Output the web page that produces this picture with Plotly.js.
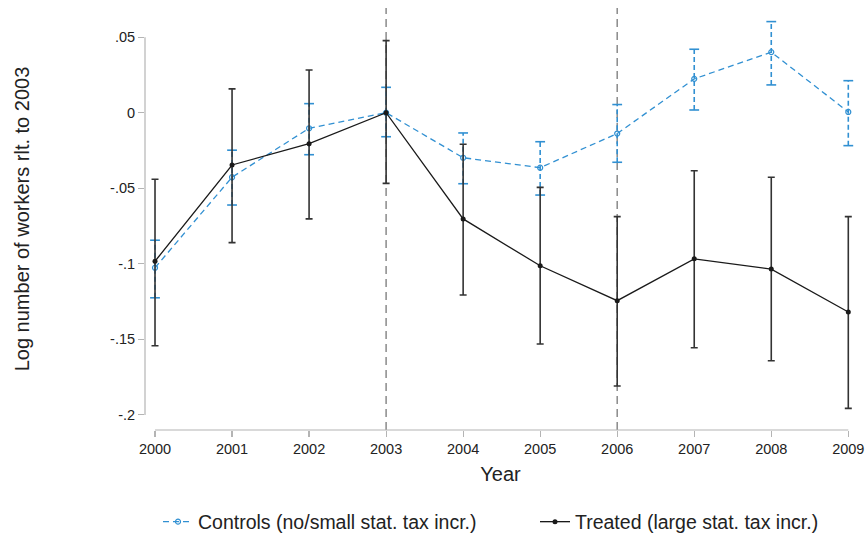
<!DOCTYPE html>
<html>
<head>
<meta charset="utf-8">
<script src="https://cdn.plot.ly/plotly-3.0.1.min.js"></script>
<style>html,body{margin:0;padding:0;background:#fff;}#chart{width:868px;height:540px;}</style>
</head>
<body>
<div id="chart"></div>
<script>
// ---- data ----
const years = [2000, 2001, 2002, 2003, 2004, 2005, 2006, 2007, 2008, 2009];

const controlsEst = [-0.1026, -0.0427, -0.0103, 0.0000, -0.0298, -0.0364, -0.0138, 0.0224, 0.0401, 0.0005];
const controlsHi  = [-0.0844, -0.0248,  0.0060, 0.0168, -0.0134, -0.0192,  0.0054, 0.0420, 0.0603, 0.0212];
const controlsLo  = [-0.1225, -0.0611, -0.0278, -0.0159, -0.0470, -0.0545, -0.0328, 0.0018, 0.0184, -0.0218];

const treatedEst = [-0.0983, -0.0346, -0.0205, 0.0000, -0.0703, -0.1013, -0.1244, -0.0967, -0.1035, -0.1319];
const treatedHi  = [-0.0440,  0.0158,  0.0283, 0.0477, -0.0209, -0.0494, -0.0688, -0.0384, -0.0427, -0.0688];
const treatedLo  = [-0.1542, -0.0860, -0.0703, -0.0468, -0.1207, -0.1531, -0.1809, -0.1556, -0.1642, -0.1957];

const yTickVals = [0.05, 0, -0.05, -0.1, -0.15, -0.2];
const yTickText = ['.05', '0', '-.05', '-.1', '-.15', '-.2'];
const markerYears = [2003, 2006];

const seriesNames = ['Controls (no/small stat. tax incr.)', 'Treated (large stat. tax incr.)'];

// ---- layout constants ----
const blue = '#3190d2';
const black = '#1a1a1a';
const axisGray = '#b4b4b4';
const xRange = [1999.87, 2009.10];
const yRange = [-0.2100, 0.0693];

// dashed CI segments for controls (drawn as line trace)
const ciX = [], ciY = [];
years.forEach((yr, i) => { ciX.push(yr, yr, null); ciY.push(controlsLo[i], controlsHi[i], null); });
const capX = years.concat(years);
const capY = controlsLo.concat(controlsHi);

const traces = [
  {
    x: ciX, y: ciY, mode: 'lines', type: 'scatter', showlegend: false, hoverinfo: 'skip',
    line: {color: blue, width: 1.6, dash: '5px,3px'}
  },
  {
    x: capX, y: capY, mode: 'markers', type: 'scatter', showlegend: false, hoverinfo: 'skip',
    marker: {symbol: 'line-ew', size: 7, line: {color: blue, width: 1.6}}
  },
  {
    x: years, y: controlsEst, name: seriesNames[0], mode: 'lines+markers', type: 'scatter',
    legend: 'legend',
    line: {color: blue, width: 1.3, dash: '6px,4px'},
    marker: {symbol: 'circle-open', size: 5, color: blue, line: {width: 1.2, color: blue}}
  },
  {
    x: years, y: treatedEst, name: seriesNames[1], mode: 'lines+markers', type: 'scatter',
    legend: 'legend2',
    line: {color: black, width: 1.3},
    marker: {symbol: 'circle', size: 5, color: black},
    error_y: {
      type: 'data', symmetric: false,
      array: treatedHi.map((v, i) => v - treatedEst[i]),
      arrayminus: treatedEst.map((v, i) => v - treatedLo[i]),
      color: '#333333', thickness: 1.6, width: 3.5
    }
  }
];

const toPaperX = v => (v - xRange[0]) / (xRange[1] - xRange[0]);
const toPaperY = v => (v - yRange[0]) / (yRange[1] - yRange[0]);

const shapes = markerYears.map(yr => ({
  type: 'line', xref: 'x', yref: 'paper', x0: yr, x1: yr, y0: 0, y1: 1,
  line: {color: '#8a8a8a', width: 1.5, dash: '8px,5px'}, layer: 'below'
}));
// Stata-style axis lines spanning only the tick range
shapes.push({
  type: 'line', xref: 'paper', yref: 'paper', x0: 0, x1: 0,
  y0: toPaperY(yTickVals[yTickVals.length - 1]), y1: toPaperY(yTickVals[0]),
  line: {color: axisGray, width: 1.2}
});
shapes.push({
  type: 'line', xref: 'paper', yref: 'paper', y0: 0, y1: 0,
  x0: toPaperX(years[0]), x1: toPaperX(years[years.length - 1]),
  line: {color: axisGray, width: 1.2}
});

const font = 'Liberation Sans, Arial, sans-serif';
const legendFont = {family: font, size: 19.5, color: '#222222'};

const layout = {
  width: 868, height: 540,
  margin: {l: 145, r: 12, t: 8, b: 110, autoexpand: false},
  paper_bgcolor: '#ffffff', plot_bgcolor: '#ffffff',
  font: {family: font, color: '#222222', size: 14},
  showlegend: true,
  legend: {
    orientation: 'h', xref: 'container', yref: 'container',
    x: 158 / 868, xanchor: 'left', y: 1 - 522 / 540, yanchor: 'middle',
    font: legendFont, bgcolor: 'rgba(0,0,0,0)'
  },
  legend2: {
    orientation: 'h', xref: 'container', yref: 'container',
    x: 535 / 868, xanchor: 'left', y: 1 - 522 / 540, yanchor: 'middle',
    font: legendFont, bgcolor: 'rgba(0,0,0,0)'
  },
  xaxis: {
    range: xRange, tickmode: 'array', tickvals: years, ticktext: years.map(String),
    showgrid: false, zeroline: false, showline: false, automargin: false,
    ticks: 'outside', ticklen: 6, tickcolor: axisGray, tickwidth: 1.2,
    tickfont: {family: font, size: 14.5, color: '#222222'},
    title: {text: 'Year', font: {family: font, size: 20, color: '#222222'}, standoff: 10}
  },
  yaxis: {
    range: yRange, tickmode: 'array', tickvals: yTickVals, ticktext: yTickText,
    showgrid: false, zeroline: false, showline: false, automargin: false,
    ticks: 'outside', ticklen: 6, tickcolor: axisGray, tickwidth: 1.2,
    tickfont: {family: font, size: 14.5, color: '#222222'},
    title: {text: 'Log number of workers rlt. to 2003', font: {family: font, size: 20, color: '#222222'}, standoff: 75}
  },
  shapes: shapes
};

Plotly.newPlot('chart', traces, layout, {displayModeBar: false, staticPlot: true});
</script>
</body>
</html>
